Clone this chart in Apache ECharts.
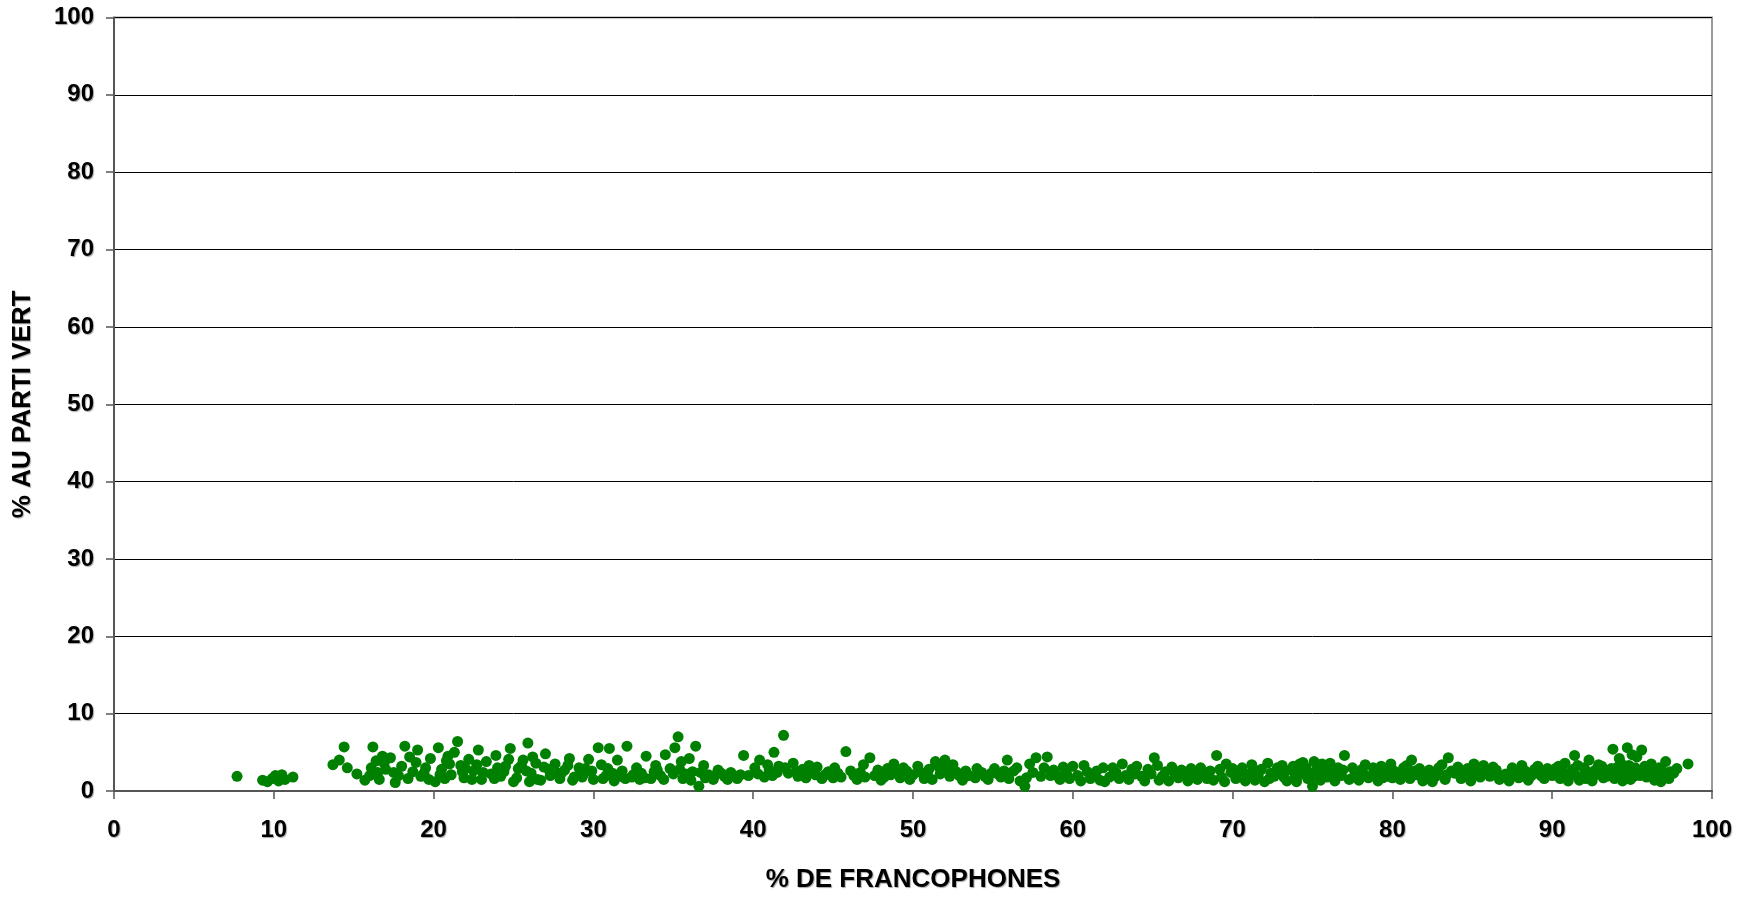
<!DOCTYPE html>
<html><head><meta charset="utf-8">
<script src="https://cdn.jsdelivr.net/npm/echarts@6/dist/echarts.min.js"></script>
<style>html,body{margin:0;padding:0;background:#fff;overflow:hidden}#c{width:1752px;height:898px}</style>
</head><body><div id="c"></div>
<script>
const xTitle = "% DE FRANCOPHONES";
const yTitle = "% AU PARTI VERT";
const xTicks = [0,10,20,30,40,50,60,70,80,90,100];
const yTicks = [0,10,20,30,40,50,60,70,80,90,100];

const pts00 = [[7.7,1.9],[9.3,1.4],[9.6,1.2],[9.9,1.6],[10.1,2.0],[10.3,1.3],[10.5,2.1],[10.7,1.5],[11.2,1.8],
  [13.7,3.4],[14.1,4.0],[14.4,5.7],[14.6,3.0],[15.2,2.2],[15.7,1.4],[16.0,2.0],[16.2,5.7],[16.4,3.9],[16.6,1.5],[16.8,4.5],
  [17.0,2.8],[17.3,4.3],[17.6,1.1],[17.8,2.0],[18.0,3.2],[18.2,5.8],[18.5,4.4],[18.7,2.5],[19.0,5.3],[19.2,1.9],[19.5,3.0],[19.8,4.2],[20.1,1.2],
  [16.1,3.0],[16.9,3.6],[17.5,2.4],[18.4,1.6],[19.4,2.3],[19.7,1.5],[16.5,2.4],[18.9,3.7]];
const pts20 = [[20.3,5.6],[20.5,2.8],[20.7,1.6],[20.9,4.5],[21.1,2.1],[21.3,5.0],[21.5,6.4],[21.7,3.3],[21.9,1.7],[22.2,4.1],
  [22.5,2.6],[22.8,5.3],[23.0,1.5],[23.3,3.8],[23.6,2.2],[23.9,4.6],[24.2,1.9],[24.5,3.2],[24.8,5.5],[25.0,1.2],[25.3,2.9],
  [25.6,4.0],[25.9,6.2],[26.1,2.3],[26.4,3.6],[26.7,1.4],[27.0,4.8],[27.3,2.0],[27.6,3.5],[27.9,1.6],[28.2,2.7],[28.5,4.2],
  [28.8,1.8],[29.1,3.0],[29.4,2.2],[29.7,4.1],[30.0,1.5],
  [20.4,2.1],[21.0,3.5],[21.8,2.5],[22.4,1.5],[23.1,2.4],[23.8,1.6],[24.4,2.5],[25.2,1.7],[25.8,2.6],[26.5,1.5],[27.2,2.8],
  [28.0,2.3],[28.7,1.4],[29.3,1.8],[29.9,2.6],
  [20.8,3.9],[22.0,2.9],[22.7,3.4],[24.0,3.0],[24.7,4.1],[25.5,3.3],[26.2,4.4],[26.9,3.1],[27.8,2.3],[28.4,3.3],[29.5,2.9],[26.0,1.2]];
const pts30 = [[30.3,5.6],[30.5,3.4],[30.8,2.0],[31.0,5.5],[31.3,1.3],[31.5,4.0],[31.8,2.6],[32.1,5.8],[32.4,1.8],[32.7,3.0],
  [33.0,2.3],[33.3,4.5],[33.6,1.6],[33.9,3.3],[34.2,2.0],[34.5,4.7],[34.8,2.9],[35.1,5.6],[35.3,7.0],[35.5,3.8],[35.8,2.2],
  [36.1,1.4],[36.4,5.8],[36.6,0.6],[36.9,3.3],[37.2,2.1],[37.5,1.5],[37.8,2.7],[38.2,1.9],[38.6,2.4],[39.0,1.6],[39.4,4.6],[39.7,2.0],
  [30.6,1.6],[31.2,2.3],[32.0,1.6],[32.5,2.1],[33.2,1.7],[33.8,2.5],[34.4,1.5],[35.0,2.2],[35.6,1.6],[36.2,2.5],[37.0,1.7],
  [37.6,2.0],[38.4,1.5],[39.2,2.1],
  [30.9,2.9],[31.7,1.9],[32.9,1.5],[34.0,2.7],[35.4,2.8],[36.0,4.2],[36.7,2.4],[38.0,2.3],[38.9,1.9]];
const pts40 = [[40.1,3.0],[40.4,4.0],[40.7,1.8],[41.0,2.7],[41.3,5.0],[41.6,3.2],[41.9,7.2],[42.2,2.3],[42.5,3.6],[42.8,1.9],
  [43.1,2.8],[43.5,3.3],[43.9,2.1],[44.3,1.6],[44.7,2.5],[45.1,3.0],[45.5,1.8],[45.8,5.1],[46.1,2.6],[46.5,1.5],[46.9,3.4],
  [47.3,4.3],[47.6,2.0],[48.0,1.4],[48.4,2.9],[48.8,3.5],[49.2,1.7],[49.6,2.6],[50.0,2.1],
  [40.3,2.2],[41.2,2.0],[42.0,3.0],[42.7,2.6],[43.3,1.7],[44.0,3.1],[44.5,2.1],[45.3,2.3],[46.3,2.0],[47.0,1.8],[47.8,2.7],
  [48.6,2.1],[49.4,3.0],[49.8,1.5],
  [40.9,3.4],[41.5,2.4],[43.7,2.6],[45.0,1.7],[46.7,2.4],[48.2,1.8],[49.0,2.4]];
const pts50 = [[50.3,3.2],[50.7,1.6],[51.0,2.8],[51.4,3.8],[51.7,2.2],[52.0,4.0],[52.3,1.9],[52.7,2.5],[53.1,1.4],[53.5,2.0],
  [53.9,1.7],[54.3,2.4],[54.7,1.5],[55.1,2.9],[55.5,1.8],[55.9,4.0],[56.3,2.6],[56.7,1.3],[57.0,0.6],[57.3,3.5],[57.7,4.3],
  [58.0,1.9],[58.4,4.4],[58.8,2.7],[59.2,1.5],[59.6,2.3],[60.0,3.2],
  [50.5,2.4],[51.2,1.5],[51.9,3.0],[52.5,3.4],[53.3,2.6],[54.0,2.9],[54.5,1.9],[55.3,2.2],[56.0,1.6],[56.5,3.0],[57.5,2.4],
  [58.2,3.0],[59.0,2.0],[59.4,3.1],[52.1,2.4],
  [50.9,2.0],[51.6,3.2],[52.9,2.0],[54.9,2.3],[55.7,2.6],[57.1,1.7],[58.6,2.0],[59.8,1.6]];
const pts60 = [[60.3,2.0],[60.7,3.3],[61.1,1.6],[61.5,2.6],[61.9,3.0],[62.3,1.8],[62.7,2.4],[63.1,3.5],[63.5,1.5],[63.9,2.2],
  [64.3,1.9],[64.7,2.8],[65.1,4.3],[65.4,1.4],[65.8,2.5],[66.2,3.1],[66.6,1.7],[67.0,2.3],[67.4,2.9],[67.8,1.5],[68.2,2.0],
  [68.6,2.6],[69.0,4.6],[69.3,1.8],[69.6,3.5],[69.9,2.4],
  [60.5,1.3],[61.3,2.2],[62.0,1.2],[62.9,1.6],[63.7,2.8],[64.5,1.3],[65.6,1.9],[66.4,2.2],[67.2,1.3],[68.0,3.0],[68.8,1.4],
  [69.5,1.2],[64.0,3.2],[61.7,1.4],
  [60.9,2.5],[62.5,3.0],[63.3,2.0],[64.9,2.2],[66.0,1.3],[66.8,2.7],[67.6,2.1],[68.4,1.6],[69.2,2.8],[65.3,3.3]];
const pts70 = [[70.2,1.6],[70.6,3.0],[71.0,2.2],[71.4,1.4],[71.8,2.8],[72.2,3.6],[72.6,1.9],[73.0,2.5],[73.4,1.3],[73.8,3.2],
  [74.1,2.0],[74.4,3.7],[74.7,1.6],[75.0,0.6],[75.3,2.9],[75.6,3.5],[75.9,1.8],[76.2,2.4],[76.6,3.0],[77.0,4.6],[77.3,1.5],
  [77.7,2.2],[78.1,2.8],[78.5,1.7],[78.9,2.4],[79.3,3.2],[79.7,1.9],
  [70.4,2.4],[70.8,1.3],[71.2,3.4],[71.6,2.0],[72.0,1.2],[72.4,2.3],[72.8,3.0],[73.2,1.8],[73.6,2.7],[74.0,1.2],[74.3,2.6],
  [74.9,2.3],[75.1,3.8],[75.5,1.4],[75.8,2.8],[76.1,3.6],[76.4,1.3],[76.8,2.0],[77.5,3.0],[77.9,1.4],[78.3,3.4],[78.7,2.0],
  [79.1,1.3],[79.5,2.7],[79.9,3.5],
  [70.0,2.9],[70.9,1.9],[71.5,2.6],[72.3,1.6],[73.1,3.3],[73.9,1.7],[74.6,3.0],[75.2,1.9],[75.7,2.3],[76.3,1.8],[76.9,2.7],
  [77.6,1.9],[78.2,2.2],[78.8,3.0],[79.4,1.7],[74.2,3.5],[75.4,3.4]];
const pts80 = [[80.1,2.6],[80.5,1.5],[80.9,3.3],[81.2,4.0],[81.5,2.1],[81.9,1.3],[82.3,2.7],[82.7,1.9],[83.1,3.4],[83.5,4.3],
  [83.9,2.3],[84.3,1.6],[84.7,2.9],[85.1,3.5],[85.5,1.8],[85.9,2.5],[86.3,3.1],[86.7,1.5],[87.1,2.2],[87.5,3.0],[87.9,1.7],
  [88.3,2.6],[88.7,2.0],[89.1,3.2],[89.5,1.6],[89.9,2.4],
  [80.3,2.0],[80.7,3.0],[81.1,1.6],[81.7,2.9],[82.1,2.3],[82.5,1.2],[82.9,3.0],[83.3,1.5],[83.7,2.6],[84.1,3.1],[84.5,2.0],
  [84.9,1.3],[85.3,2.4],[85.7,3.3],[86.1,1.9],[86.5,2.7],[86.9,2.0],[87.3,1.3],[87.7,2.5],[88.1,3.3],[88.5,1.4],[88.9,2.8],
  [89.3,2.0],[89.7,2.9],
  [80.0,1.7],[80.8,2.4],[81.4,2.6],[82.0,1.8],[82.8,2.5],[83.4,2.1],[84.2,2.4],[85.0,2.0],[85.6,2.8],[86.4,2.3],[87.0,1.8],
  [87.6,2.1],[88.2,1.9],[88.8,2.3],[89.6,2.2]];
const pts90 = [[90.2,2.9],[90.5,1.6],[90.8,3.6],[91.1,2.2],[91.4,4.6],[91.7,1.4],[92.0,3.0],[92.3,4.0],[92.6,2.0],[92.9,3.4],
  [93.2,1.7],[93.5,2.6],[93.8,5.4],[94.1,3.1],[94.4,1.3],[94.7,5.6],[95.0,2.4],[95.3,4.4],[95.6,5.3],[95.9,1.8],[96.2,3.5],
  [96.5,2.1],[96.8,1.2],[97.1,3.8],[97.4,2.5],[97.8,2.9],[98.5,3.5],
  [90.0,2.0],[90.4,3.2],[90.7,2.5],[91.0,1.3],[91.3,2.8],[91.6,3.3],[91.9,1.9],[92.2,2.5],[92.5,1.3],[92.8,2.2],[93.1,3.2],
  [93.4,1.9],[93.7,2.9],[94.0,2.0],[94.3,3.6],[94.6,2.3],[94.9,1.5],[95.2,3.0],[95.5,2.0],[95.8,3.2],[96.1,2.6],[96.4,1.4],
  [96.7,3.0],[97.0,2.0],[97.3,1.6],[97.6,2.3],
  [90.3,2.3],[90.9,1.8],[91.5,2.0],[92.1,1.6],[92.7,2.7],[93.3,2.3],[93.9,1.6],[94.5,2.7],[94.8,3.3],[95.1,1.9],[95.4,2.6],
  [95.7,2.4],[96.0,2.2],[96.3,3.0],[96.6,2.4],[96.9,2.6],[97.2,2.2],[94.2,4.2],[95.0,4.7]];

const allPts = [].concat(pts00, pts20, pts30, pts40, pts50, pts60, pts70, pts80, pts90);

const FONT = '"Liberation Sans", Arial, sans-serif';
const shadow = {textShadowColor:'rgba(0,0,0,0.35)', textShadowOffsetX:1, textShadowOffsetY:1, textShadowBlur:1};
const chart = echarts.init(document.getElementById('c'), null, {renderer:'canvas'});
chart.setOption({
  animation:false,
  backgroundColor:'#fff',
  grid:{left:114, right:40, top:17.5, bottom:100.5, show:true, borderColor:'#9a9a9a', borderWidth:2, backgroundColor:'transparent'},
  xAxis:{type:'value', min:xTicks[0], max:xTicks[xTicks.length-1], interval:xTicks[1]-xTicks[0],
    name:xTitle, nameLocation:'middle', nameGap:76,
    nameTextStyle:Object.assign({fontFamily:FONT, fontWeight:'bold', fontSize:26, color:'#000'}, shadow),
    axisLine:{show:true, onZero:false, lineStyle:{color:'#555', width:2}},
    axisTick:{show:true, inside:false, length:8, lineStyle:{color:'#555', width:1.5}},
    axisLabel:Object.assign({fontFamily:FONT, fontWeight:'bold', fontSize:24, color:'#000', margin:27}, shadow),
    splitLine:{show:false}},
  yAxis:{type:'value', min:yTicks[0], max:yTicks[yTicks.length-1], interval:yTicks[1]-yTicks[0],
    name:yTitle, nameLocation:'middle', nameGap:78, nameRotate:90,
    nameTextStyle:Object.assign({fontFamily:FONT, fontWeight:'bold', fontSize:26, color:'#000'}, shadow),
    axisLine:{show:true, lineStyle:{color:'#555', width:2}},
    axisTick:{show:true, inside:false, length:8, lineStyle:{color:'#555', width:1.5}},
    axisLabel:Object.assign({fontFamily:FONT, fontWeight:'bold', fontSize:24, color:'#000', margin:20}, shadow),
    splitLine:{show:true, lineStyle:{color:'#000', width:1}}},
  series:[{type:'scatter', data:allPts, symbol:'circle', symbolSize:11,
    itemStyle:{color:'#008000', opacity:1}}]
});
</script></body></html>
